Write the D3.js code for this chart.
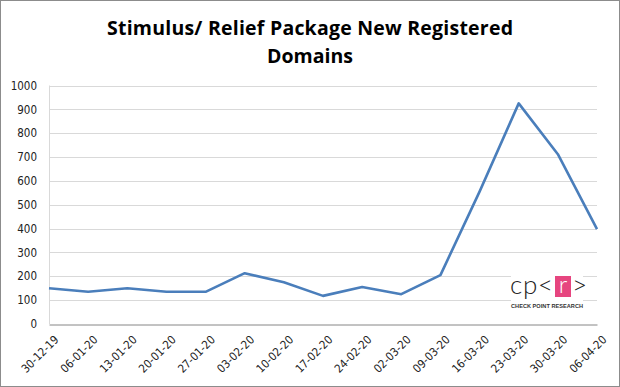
<!DOCTYPE html>
<html>
<head>
<meta charset="utf-8">
<script src="https://cdn.jsdelivr.net/npm/d3@7"></script>
<style>
  body { margin: 0; background: #fff; }
  svg { display: block; font-family: "Liberation Sans", Arial, sans-serif; }
</style>
</head>
<body>
<div class="chart"></div>
<script>
var weeks = ['30-12-19','06-01-20','13-01-20','20-01-20','27-01-20','03-02-20','10-02-20','17-02-20',
             '24-02-20','02-03-20','09-03-20','16-03-20','23-03-20','30-03-20','06-04-20']
var domains = [150, 135, 150, 135, 135, 213, 175, 118, 155, 125, 205, 555, 925, 712, 398]
var yTicks = [0, 100, 200, 300, 400, 500, 600, 700, 800, 900, 1000]

var W = 620, H = 387
var svg = d3.select(".chart").append("svg").attr("width", W).attr("height", H)

svg.append("rect").attr("x", 0.5).attr("y", 0.5).attr("width", W - 1).attr("height", H - 1)
   .attr("fill", "#fff").attr("stroke", "#8c8c8c")

// title
var title = svg.append("text").attr("text-anchor", "middle")
   .style("font-family", "'Open Sans', sans-serif").style("font-weight", "bold").style("font-size", "19.5px")
title.append("tspan").attr("x", 310).attr("y", 35).attr("textLength", 406).text("Stimulus/ Relief Package New Registered")
title.append("tspan").attr("x", 310).attr("y", 63).text("Domains")

var x = d3.scalePoint().domain(weeks).range([49, 597])
var y = d3.scaleLinear().domain([0, 1000]).range([324, 85.5])

// gridlines
svg.append("g").selectAll("line").data(yTicks.slice(1)).enter().append("line")
   .attr("x1", 49).attr("x2", 597)
   .attr("y1", function(d) { return Math.round(y(d)) + 0.5 })
   .attr("y2", function(d) { return Math.round(y(d)) + 0.5 })
   .attr("stroke", "#d9d9d9")

svg.append("line").attr("x1", 49.5).attr("x2", 49.5).attr("y1", y(1000)).attr("y2", y(0))
   .attr("stroke", "#d9d9d9")

var yAxis = svg.append("g").attr("transform", "translate(49,0)")
   .call(d3.axisLeft(y).tickValues(yTicks).tickFormat(d3.format("d")).tickSize(0).tickPadding(12))
yAxis.select(".domain").remove()
yAxis.selectAll("text").style("font-size", "11.5px").style("fill", "#222")
   .style("font-family", "'DejaVu Sans Condensed', 'DejaVu Sans', sans-serif")

var xAxis = svg.append("g").attr("transform", "translate(0," + (Math.round(y(0)) + 0.5) + ")")
   .call(d3.axisBottom(x).tickSize(0))
xAxis.select(".domain").attr("stroke", "#868686")
xAxis.selectAll("text").attr("text-anchor", "end")
   .attr("transform", "translate(7,13) rotate(-45)").attr("dy", "0.35em").attr("y", 0)
   .style("font-size", "11.5px").style("fill", "#222")
   .style("font-family", "'DejaVu Sans Condensed', 'DejaVu Sans', sans-serif")

// logo
var logo = svg.append("g")
logo.append("rect").attr("x", 511).attr("y", 268).attr("width", 72).attr("height", 44).attr("fill", "#fff")
logo.append("rect").attr("x", 555).attr("y", 276).attr("width", 16).attr("height", 21).attr("fill", "#e6457f")
logo.append("text").attr("x", 510).attr("y", 294).style("font-size", "26px")
   .style("font-family", "Lato, sans-serif").style("font-weight", "300").attr("fill", "#222")
   .attr("textLength", 43).attr("lengthAdjust", "spacing").text("cp<")
logo.append("text").attr("x", 563).attr("y", 293).attr("text-anchor", "middle").style("font-size", "24px")
   .style("font-family", "Lato, sans-serif").style("font-weight", "300").attr("fill", "#fff").text("r")
logo.append("text").attr("x", 572).attr("y", 294).style("font-size", "26px")
   .style("font-family", "Lato, sans-serif").style("font-weight", "300").attr("fill", "#222").text(">")
logo.append("text").attr("x", 547).attr("y", 308).attr("text-anchor", "middle")
   .style("font-size", "5.6px").style("font-weight", "bold").attr("fill", "#333")
   .attr("textLength", 72).text("CHECK POINT RESEARCH")

// line
var line = d3.line().x(function(d, i) { return x(weeks[i]) }).y(function(d) { return y(d) })
svg.append("path").datum(domains).attr("d", line)
   .attr("fill", "none").attr("stroke", "#4a7ebb").attr("stroke-width", 2.6).attr("stroke-linejoin", "round")
</script>
</body>
</html>
